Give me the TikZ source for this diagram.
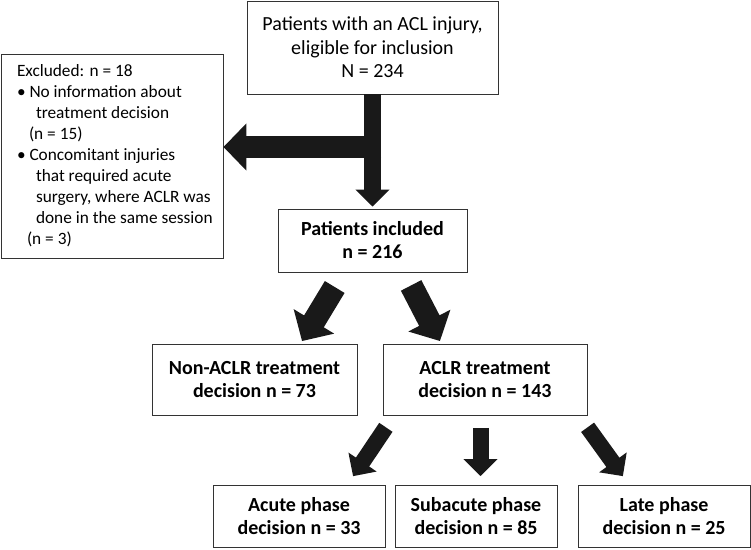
\documentclass[tikz,border=0pt]{standalone}
\usepackage{fontspec}
\setmainfont{Carlito}
\usepackage{tikz}
\usetikzlibrary{calc}
\usetikzlibrary{arrows.meta}

\tikzset{
	box/.style={draw=black!80, line width=0.9pt, align=center, inner sep=0pt, font=\fontsize{20}{23.5}\selectfont},
	boldbox/.style={box, font=\fontsize{20}{23}\selectfont\bfseries},
	fatarrow/.style={line width=16pt, -{Triangle[length=17pt, width=33pt]}, black!90},
	bigarrow/.style={line width=23pt, -{Triangle[length=23pt, width=46pt]}, black!90},
}

\begin{document}
\begin{tikzpicture}[x=1pt, y=-1pt]
			\useasboundingbox (0, 0) rectangle (751, 549);

			\node[box, minimum width=251pt, minimum height=93pt](elig) at (372.5, 47.5){Patients with an ACL injury,\\eligible for inclusion\\N = 234};
			\node[box, minimum width=222pt, minimum height=204pt, text width=220pt, align=flush left, font=\fontsize{17.3}{21}\selectfont](excl) at (112, 156){\hspace*{15pt}Excluded: n = 18\\
				\hspace*{15pt}• No information about\\
				\hspace*{34pt}treatment decision\\
				\hspace*{27pt}(n = 15)\\
				\hspace*{15pt}• Concomitant injuries\\
				\hspace*{34pt}that required acute\\
				\hspace*{34pt}surgery, where ACLR was\\
				\hspace*{34pt}done in the same session\\
				\hspace*{25pt}(n = 3)};
			\node[boldbox, minimum width=189pt, minimum height=63pt](incl) at (372.5, 240.5){Patients included\\n = 216};

			\node[boldbox, minimum width=205pt, minimum height=71pt](nonaclr) at (254.5, 380){Non-ACLR treatment\\decision n = 73};
			\node[boldbox, minimum width=204pt, minimum height=71pt](aclr) at (485, 380){ACLR treatment\\decision n = 143};

			\node[boldbox, minimum width=172pt, minimum height=62pt](acute) at (299, 516.5){Acute phase\\decision n = 33};
			\node[boldbox, minimum width=162pt, minimum height=62pt](subacute) at (476, 516.5){Subacute phase\\decision n = 85};
			\node[boldbox, minimum width=172pt, minimum height=62pt](late) at (664, 516.5){Late phase\\decision n = 25};

			\coordinate(split) at (381, 147);
			\draw[bigarrow, line width=22pt](split)--(excl.east |- split);
			\draw[fatarrow, line width=17pt, shorten >=2pt](elig.south)--(incl.north);

			\draw[bigarrow, shorten <=17pt, shorten >=3.5pt]([xshift=-29pt]incl.south)--([xshift=45.7pt]nonaclr.north);
			\draw[bigarrow, shorten <=14.6pt, shorten >=3.4pt]([xshift=31.9pt]incl.south)--([xshift=-43.5pt]aclr.north);

			\draw[fatarrow, shorten <=13.7pt, shorten >=10.7pt]([xshift=-91.5pt]aclr.south)--([xshift=48.1pt]acute.north);
			\draw[fatarrow, shorten <=12pt, shorten >=9pt]([xshift=-4.5pt]aclr.south)--([xshift=-4.5pt]aclr.south |- subacute.north);
			\draw[fatarrow, shorten <=14pt, shorten >=11pt]([xshift=94.4pt]aclr.south)--([xshift=-34.7pt]late.north);
		\end{tikzpicture}
\end{document}
